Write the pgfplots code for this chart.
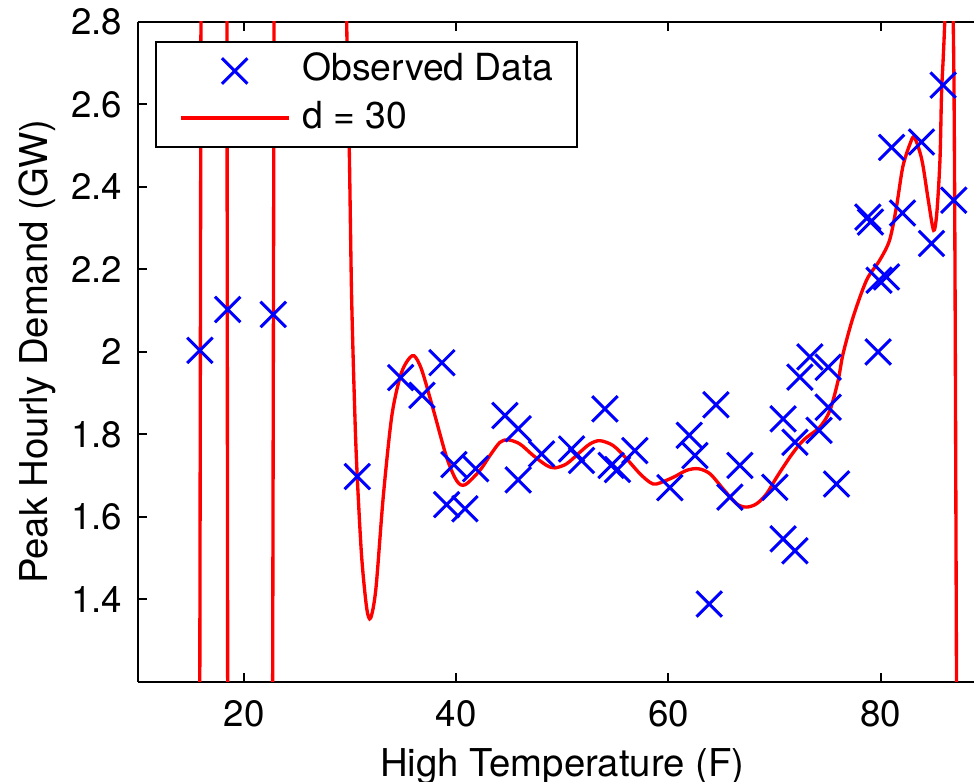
\documentclass[border=0pt]{standalone}
\usepackage{pgfplots}
\pgfplotsset{compat=1.18}
\usepackage{fontspec}
\setmainfont{TeX Gyre Heros}

% observed points
\pgfplotstableread{
x y
15.84 2.004
18.45 2.103
22.75 2.091
30.67 1.698
34.76 1.938
36.77 1.895
38.65 1.974
39.09 1.630
39.78 1.727
40.82 1.620
41.83 1.717
44.59 1.846
45.84 1.814
45.84 1.690
48.04 1.753
50.87 1.765
51.81 1.737
54.02 1.862
54.60 1.725
55.20 1.715
56.84 1.761
60.14 1.671
61.96 1.798
62.50 1.749
63.85 1.389
64.48 1.872
65.80 1.648
66.74 1.725
70.04 1.672
70.81 1.838
70.81 1.547
71.93 1.781
71.93 1.518
72.40 1.939
73.34 1.988
74.20 1.810
75.06 1.963
75.06 1.866
75.85 1.680
78.80 2.327
79.05 2.315
79.77 2.000
79.86 2.174
80.56 2.182
81.04 2.496
82.07 2.337
83.86 2.509
84.80 2.263
85.90 2.647
86.90 2.368
}\obsdata

\begin{document}
\begin{tikzpicture}
\useasboundingbox (-41.4pt,-30pt) rectangle (250.8pt,204.6pt);
\begin{axis}[
  at={(0,0)}, anchor=south west,
  scale only axis,
  width=254.6pt, height=198pt,
  xmin=10, xmax=90, ymin=1.2, ymax=2.8,
  xtick={20,40,60,80},
  ytick={1.4,1.6,1.8,2,2.2,2.4,2.6,2.8},
  axis x line*=box, axis y line*=left,
  axis line style={black, line width=0.6pt},
  tick style={black, line width=0.6pt},
  tick align=inside,
  major tick length=2.6pt,
  /pgf/number format/assume math mode=true,
  tick label style={font=\fontsize{11}{13}\selectfont},
  yticklabel style={inner xsep=0pt, xshift=-4.5pt},
  xticklabel style={inner ysep=0pt, yshift=-5.4pt},
  label style={font=\fontsize{11.5}{13}\selectfont},
  xlabel={High Temperature (F)},
  ylabel={Peak Hourly Demand (GW)},
  xlabel style={at={(axis description cs:0.5,-0.1435)}, anchor=base},
  ylabel style={at={(axis description cs:-0.1072,0.5)}, anchor=base},
  legend image code/.code={\draw[mark repeat=2,mark phase=2,#1] plot coordinates {(0pt,0pt) (16.2pt,0pt) (32.4pt,0pt)};},
  legend cell align=left,
  legend style={at={(axis description cs:0.02,0.9717)}, anchor=north west,
    draw=black, line width=0.6pt, fill=white,
    font=\fontsize{11.2}{13}\selectfont,
    inner xsep=6.9pt, inner ysep=3.8pt,
    nodes={inner sep=0pt, text height=8pt, text depth=2pt},
    row sep=4.1pt, column sep=3.6pt},
]
\addplot[only marks, mark=x, mark size=5.4pt, color=blue, mark options={line width=0.9pt}] table[x=x,y=y] {\obsdata};
\addlegendentry{Observed Data}
% wild oscillation of the fit on the left (leaves the window)
\addplot[red, line width=1pt, forget plot] coordinates {
(15.80,0.8) (15.96,3.2) (18.37,3.2) (18.47,0.8) (22.66,0.8) (22.86,3.2) (29.55,3.2)
};
\addplot[red, line width=1pt, smooth, tension=0.5] coordinates {
(29.55,3.2) (29.67,2.805) (29.92,2.487) (30.14,2.131) (30.45,1.842) (30.67,1.697)
(31.08,1.505) (31.56,1.379) (31.93,1.355) (32.43,1.427) (33.12,1.649) (33.91,1.842)
(34.69,1.938) (35.33,1.976) (36.01,1.991) (36.74,1.957) (37.83,1.861) (39.09,1.745)
(40.04,1.688) (40.82,1.678) (42.23,1.713) (43.18,1.749) (44.12,1.781) (44.90,1.787)
(46.00,1.777) (47.26,1.749) (48.52,1.725) (49.30,1.719) (50.41,1.729) (51.66,1.757)
(52.60,1.777) (53.54,1.785) (54.80,1.773) (56.06,1.741) (57.31,1.705) (58.26,1.684)
(58.89,1.680) (60.45,1.696) (61.71,1.713) (62.81,1.717) (63.91,1.705) (65.16,1.668)
(66.43,1.632) (67.37,1.624) (68.31,1.632) (69.25,1.656) (70.20,1.696) (71.45,1.745)
(72.40,1.777) (73.03,1.793) (74.28,1.818) (75.22,1.858) (76.00,1.931) (76.47,1.996)
(77.42,2.085) (78.68,2.174) (79.91,2.222) (80.85,2.271) (81.50,2.352) (82.10,2.449)
(82.80,2.506) (83.20,2.520) (83.90,2.465) (84.50,2.368) (85.00,2.295) (85.30,2.336)
(85.60,2.465) (85.75,2.627) (85.90,2.708) (86.05,2.800) (86.45,3.100) (86.85,2.800)
(87.00,2.300) (87.16,1.200) (87.20,0.900)
};
\addlegendentry{d = 30}
\end{axis}
\end{tikzpicture}
\end{document}
